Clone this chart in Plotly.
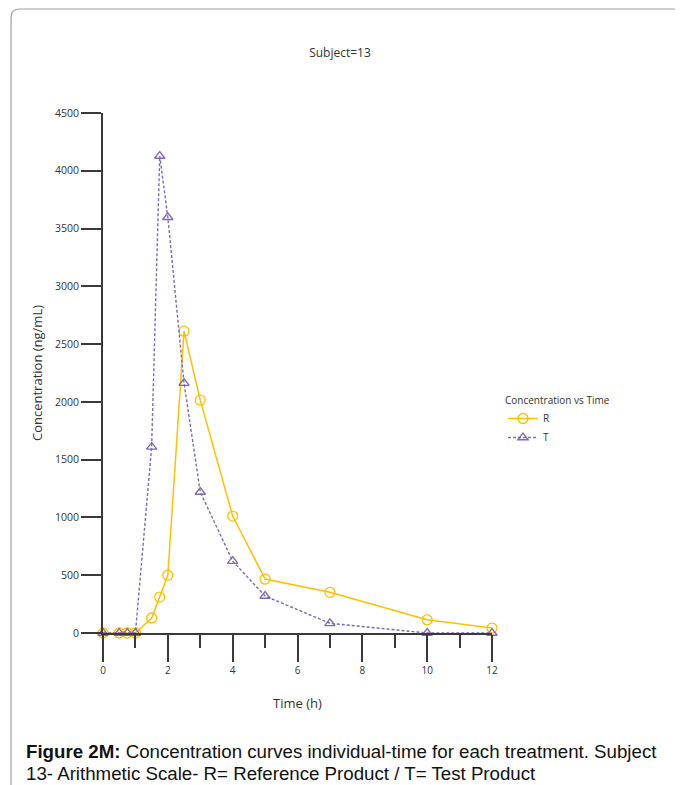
import plotly.graph_objects as go

time_h = [0, 0.5, 0.75, 1, 1.5, 1.75, 2, 2.5, 3, 4, 5, 7, 10, 12]
conc_R = [0, 0, 0, 0, 130, 311, 500, 2612, 2015, 1012, 467, 352, 115, 43]
conc_T = [0, 0, 0, 0, 1610, 4128, 3598, 2163, 1220, 622, 320, 84, 0, 0]

x_ticks = [0, 2, 4, 6, 8, 10, 12]
y_ticks = [0, 500, 1000, 1500, 2000, 2500, 3000, 3500, 4000, 4500]

caption_line1 = "<b>Figure 2M:</b> Concentration curves individual-time for each treatment. Subject"
caption_line2 = "13- Arithmetic Scale- R= Reference Product / T= Test Product"

R_COLOR = "#FFC000"
T_COLOR = "#8068B8"
AX_COLOR = "#3a3a3a"
FONT = "Open Sans"

fig = go.Figure()
fig.add_trace(go.Scatter(
    x=time_h, y=conc_R, name="R", mode="lines+markers",
    line=dict(color=R_COLOR, width=1.5),
    marker=dict(symbol="circle-open", size=10, color=R_COLOR, line=dict(width=1.3)),
    cliponaxis=False,
))
fig.add_trace(go.Scatter(
    x=time_h, y=conc_T, name="T", mode="lines+markers",
    line=dict(color=T_COLOR, width=1.4, dash="3px,2px"),
    marker=dict(symbol="triangle-up-open", size=9, color=T_COLOR, line=dict(width=1.3)),
    cliponaxis=False,
))

OFF = 8  # page body margin
W, H = 675, 777
# target plot area on screen: x 103..492, y 113..633
L, T = 103 - OFF, 113 - OFF
pw, ph = 492 - 103, 633 - 113
R = W - L - pw
B = H - T - ph

def px(xs):
    return (xs - OFF - L) / pw

def py(ys):
    return (T + ph - (ys - OFF)) / ph

fig.update_layout(
    width=W, height=H,
    margin=dict(l=L, r=R, t=T, b=B),
    paper_bgcolor="white", plot_bgcolor="white",
    font=dict(family=FONT, color="#333333", size=10),
    title=dict(text="Subject=13", x=px(340), xref="paper", xanchor="center",
               y=1 - (53 - OFF) / H, yanchor="middle", font=dict(size=12, color="#333333")),
    showlegend=True,
    legend=dict(
        title=dict(text="Concentration vs Time", font=dict(size=10, color="#333333")),
        x=px(503), xanchor="left", y=py(391), yanchor="top",
        font=dict(size=10, color="#333333"), bgcolor="rgba(0,0,0,0)",
        tracegroupgap=0, itemwidth=30,
    ),
    xaxis=dict(
        range=[0, 12], tickvals=x_ticks, ticktext=[str(v) for v in x_ticks],
        showgrid=False, zeroline=False, showline=True, linecolor=AX_COLOR, linewidth=2,
        ticks="outside", ticklen=27, tickwidth=2, tickcolor=AX_COLOR,
        minor=dict(dtick=1, tick0=0, ticks="outside", ticklen=13, tickwidth=2,
                   tickcolor=AX_COLOR, showgrid=False),
        tickfont=dict(size=10, color="#333333"),
        title=dict(text="Time (h)", font=dict(size=13, color="#333333"), standoff=23),
    ),
    yaxis=dict(
        range=[0, 4500], tickvals=y_ticks, ticktext=[str(v) for v in y_ticks],
        showgrid=False, zeroline=False, showline=True, linecolor=AX_COLOR, linewidth=2,
        ticks="outside", ticklen=20, tickwidth=2, tickcolor=AX_COLOR,
        tickfont=dict(size=10.5, color="#333333"),
        title=dict(text="Concentration (ng/mL)", font=dict(size=13, color="#333333"), standoff=9),
    ),
)

# card border (rounded top-left corner)
x0, y0 = px(11), py(9)
rx, ry = 9 / pw, 9 / ph
fig.add_shape(
    type="path", xref="paper", yref="paper",
    path=f"M {x0},{py(800)} L {x0},{y0 - ry} Q {x0},{y0} {x0 + rx},{y0} L {px(700)},{y0}",
    line=dict(color="#a0a0a0", width=1.2),
)

for txt, yc in ((caption_line1, 751), (caption_line2, 773)):
    fig.add_annotation(
        xref="paper", yref="paper", x=px(24), y=py(yc), xanchor="left", yanchor="middle",
        align="left", showarrow=False, text=txt,
        font=dict(family="Liberation Sans, Arial", size=18.7, color="#111111"),
    )

fig.write_html("out.html")
